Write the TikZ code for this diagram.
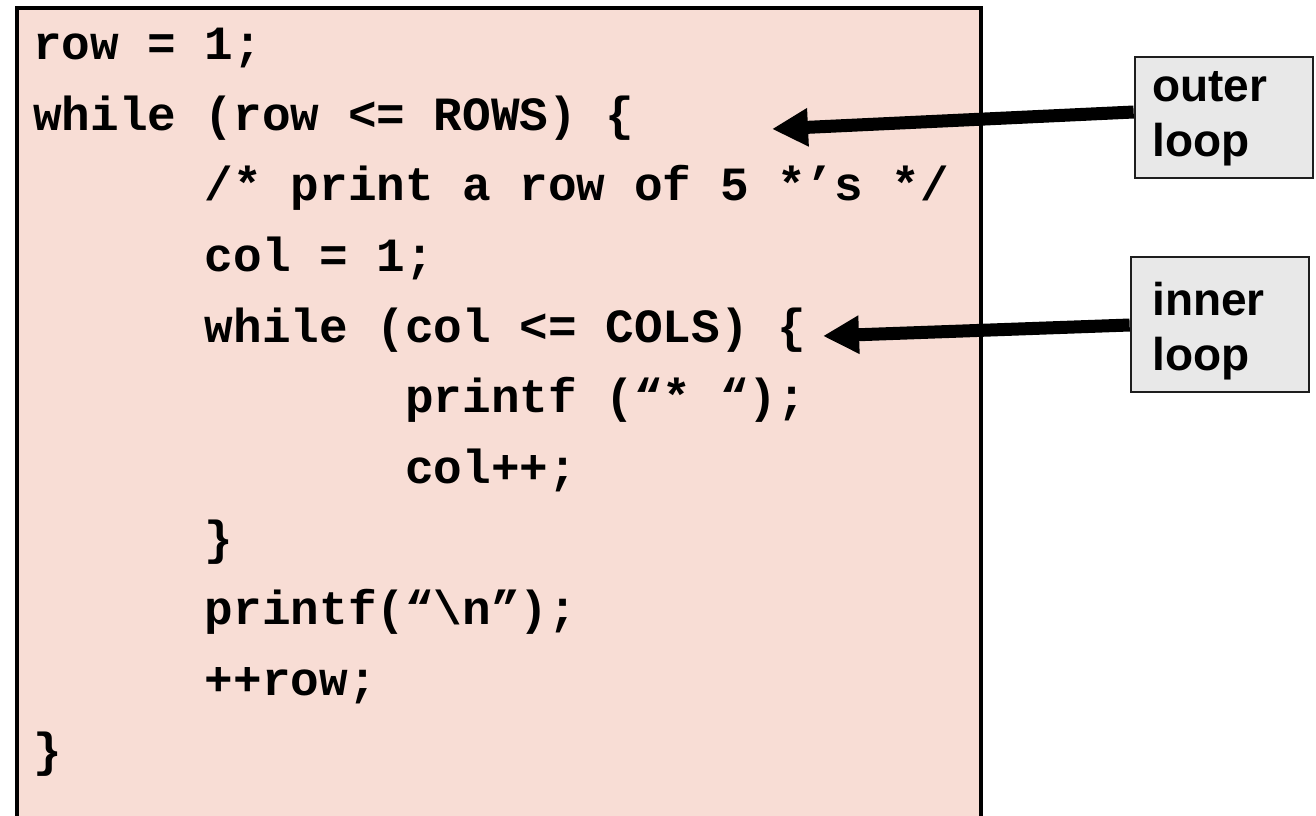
\documentclass[tikz,border=0pt]{standalone}
\usepackage{fontspec}
\setmonofont{Liberation Mono}
\setsansfont{Liberation Sans}
\usetikzlibrary{arrows.meta}
\definecolor{codebg}{RGB}{248,221,213}
\definecolor{lblbg}{RGB}{232,232,232}
\definecolor{lblframe}{RGB}{30,30,30}
\begin{document}
\begin{tikzpicture}[x=1pt,y=-1pt,
  code/.style={anchor=base west, inner sep=0pt, font=\ttfamily\bfseries\fontsize{47.7}{57}\selectfont},
  codebox/.style={draw=black, line width=4pt, fill=codebg, inner sep=0pt, anchor=north west},
  lblbox/.style={draw=lblframe, line width=2.7pt, fill=lblbg, inner sep=0pt},
  lbltext/.style={anchor=base west, inner sep=0pt, font=\sffamily\bfseries\fontsize{46}{55}\selectfont},
  arr/.style={line width=13pt, -{Triangle[length=36pt,width=36pt]}}]
\useasboundingbox (0,0) rectangle (1316,815);
\clip (0,0) rectangle (1316,815);
\fill[white] (0,0) rectangle (1316,815);
% code box
\node[codebox, minimum width=964pt, minimum height=824pt] (code) at (15,6) {};
% code lines (cell width 28.62)
\node[code] (l1) at (33,59.3) {row = 1;};
\node[code] (l2) at (33,130.0) {while (row <= ROWS) \{};
\node[code] (l3) at (204.7,200.7) {/* print a row of 5 *’s */};
\node[code] (l4) at (204.7,271.4) {col = 1;};
\node[code] (l5) at (204.7,342.1) {while (col <= COLS) \{};
\node[code] (l6) at (405.1,412.8) {printf (“* “);};
\node[code] (l7) at (405.1,483.5) {col++;};
\node[code] (l8) at (204.7,554.2) {\}};
\node[code] (l9) at (204.7,624.9) {printf(“\textbackslash n”);};
\node[code] (l10) at (204.7,695.6) {++row;};
\node[code] (l11) at (33,766.3) {\}};
% label boxes
\node[lblbox, minimum width=178pt, minimum height=121pt] (outerbox) at (1224,117.5) {};
\node[lblbox, minimum width=178pt, minimum height=135pt] (innerbox) at (1220,324.5) {};
% arrow tips
\coordinate (outertip) at (772,129);
\coordinate (innertip) at (823,336);
% arrows
\draw[arr] ([yshift=5.5pt]outerbox.west) -- (outertip);
\draw[arr] ([yshift=-0.5pt]innerbox.west) -- (innertip);
% redraw boxes over arrow ends
\node[lblbox, minimum width=178pt, minimum height=121pt] at (1224,117.5) {};
\node[lblbox, minimum width=178pt, minimum height=135pt] at (1220,324.5) {};
% label texts
\node[lbltext] (outer1) at (1152,101.7) {outer};
\node[lbltext] (outer2) at (1152,156.7) {loop};
\node[lbltext] (inner1) at (1152,315) {inner};
\node[lbltext] (inner2) at (1152,370) {loop};
\end{tikzpicture}
\end{document}
